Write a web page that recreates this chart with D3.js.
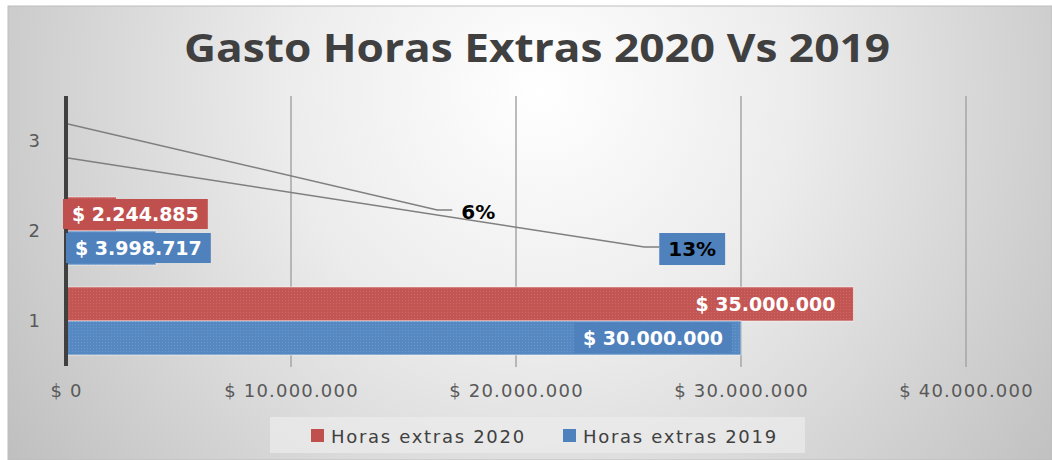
<!DOCTYPE html>
<html>
<head>
<meta charset="utf-8">
<script src="https://cdn.jsdelivr.net/npm/d3@7"></script>
<style>
  body { margin: 0; background: #ffffff; }
</style>
</head>
<body>
<svg id="drawing_region"></svg>
<script>
// data
const categories = ["1", "2", "3"];
const seriesNames = ["Horas extras 2020", "Horas extras 2019"];
const values2020 = [35000000, 2244885, 0.06];
const values2019 = [30000000, 3998717, 0.13];
const xTicks = [0, 10000000, 20000000, 30000000, 40000000];

const colors = { "Horas extras 2020": "#c0504d", "Horas extras 2019": "#4f81bd" };

const locale = d3.formatLocale({ decimal: ",", thousands: ".", grouping: [3], currency: ["$ ", ""] });
const money = locale.format("$,.0f");
const pct = d3.format(".0%");
const fmt = d => d < 1 ? pct(d) : money(d);

const width = 1052, height = 460;
const margin = { top: 96, right: 86, bottom: 94, left: 66 };

const svg = d3.select("#drawing_region")
    .attr("width", width)
    .attr("height", height);

// background
const defs = svg.append("defs");
const grad = defs.append("radialGradient")
    .attr("id", "bg")
    .attr("gradientUnits", "userSpaceOnUse")
    .attr("cx", 540).attr("cy", 90).attr("r", 640);
grad.append("stop").attr("offset", 0).attr("stop-color", "#ffffff");
grad.append("stop").attr("offset", 0.4).attr("stop-color", "#ececec");
grad.append("stop").attr("offset", 1).attr("stop-color", "#c0c0c0");

const pat = defs.append("pattern")
    .attr("id", "dots")
    .attr("width", 3).attr("height", 3)
    .attr("patternUnits", "userSpaceOnUse");
pat.append("rect").attr("width", 1).attr("height", 1).attr("fill", "rgba(255,255,255,0.12)");

svg.append("rect")
    .attr("x", 8).attr("y", 6)
    .attr("width", width - 8).attr("height", height - 6)
    .attr("fill", "url(#bg)")
    .attr("stroke", "#bdbdbd");

svg.append("text")
    .attr("x", 537).attr("y", 62)
    .attr("text-anchor", "middle")
    .attr("font-family", "'Open Sans', sans-serif")
    .attr("font-weight", 700)
    .attr("font-size", "40px")
    .attr("textLength", 706)
    .attr("lengthAdjust", "spacingAndGlyphs")
    .attr("fill", "#404040")
    .text("Gasto Horas Extras 2020 Vs 2019");

const x = d3.scaleLinear()
    .domain([0, 40000000])
    .range([margin.left, width - margin.right]);

const y = d3.scaleBand()
    .domain(categories.slice().reverse())
    .range([margin.top, height - margin.bottom])
    .paddingInner(0.244)
    .paddingOuter(0.122);

const ySub = d3.scaleBand()
    .domain(seriesNames)
    .range([0, y.bandwidth()]);

// gridlines
svg.append("g")
    .selectAll("line")
    .data(xTicks.slice(1))
    .join("line")
    .attr("x1", d => x(d)).attr("x2", d => x(d))
    .attr("y1", margin.top).attr("y2", height - margin.bottom + 1)
    .attr("stroke", "#a6a6a6")
    .attr("stroke-width", 1.5);

// x axis labels
const xaxis = d3.axisBottom(x).tickValues(xTicks).tickFormat(money).tickSize(0).tickPadding(18);
const xg = svg.append("g")
    .attr("transform", `translate(0, ${height - margin.bottom})`)
    .call(xaxis);
xg.select(".domain").remove();
xg.selectAll("text")
    .attr("font-family", "'DejaVu Sans', sans-serif")
    .attr("font-size", "18px")
    .attr("letter-spacing", "1.2px")
    .attr("fill", "#595959");

// y axis labels
const yaxis = d3.axisLeft(y).tickSize(0).tickPadding(26);
const yg = svg.append("g")
    .attr("transform", `translate(${margin.left}, 0)`)
    .call(yaxis);
yg.select(".domain").remove();
yg.selectAll("text")
    .attr("font-family", "'DejaVu Sans', sans-serif")
    .attr("font-size", "18px")
    .attr("fill", "#595959");

// bars
const rows = [];
categories.forEach((c, i) => {
    rows.push({ cat: c, series: seriesNames[0], value: values2020[i] });
    rows.push({ cat: c, series: seriesNames[1], value: values2019[i] });
});

const barFill = { "Horas extras 2020": "#c35553", "Horas extras 2019": "#5689c2" };
const bars = svg.append("g");
bars.selectAll("rect.bar")
    .data(rows)
    .join("rect")
    .attr("class", "bar")
    .attr("x", x(0))
    .attr("y", d => y(d.cat) + ySub(d.series))
    .attr("width", d => x(d.value) - x(0))
    .attr("height", ySub.bandwidth())
    .attr("fill", d => barFill[d.series])
    .attr("stroke", "rgba(255,255,255,0.55)")
    .attr("stroke-width", 1);
bars.selectAll("rect.tex")
    .data(rows)
    .join("rect")
    .attr("class", "tex")
    .attr("x", x(0))
    .attr("y", d => y(d.cat) + ySub(d.series))
    .attr("width", d => x(d.value) - x(0))
    .attr("height", ySub.bandwidth())
    .attr("fill", "url(#dots)");

// value axis line
svg.append("line")
    .attr("x1", x(0)).attr("x2", x(0))
    .attr("y1", margin.top).attr("y2", height - margin.bottom)
    .attr("stroke", "#404040")
    .attr("stroke-width", 4);

// data labels
const labelFont = "'DejaVu Sans', sans-serif";
const barMid = d => y(d.cat) + ySub(d.series) + ySub.bandwidth() / 2;

// callout elbows for the tiny category 3 values (x in data units, dy in px below bar centre)
const callout = {
    "Horas extras 2020": { x: 16500000, dy: 86, box: false },
    "Horas extras 2019": { x: 25700000, dy: 89, box: true }
};

const labels = svg.append("g");
rows.forEach(d => {
    const g = labels.append("g");
    const cy = barMid(d);
    const t = g.append("text")
        .attr("font-family", labelFont)
        .attr("font-weight", 700)
        .attr("font-size", "19px")
        .attr("dominant-baseline", "central")
        .attr("fill", "#ffffff")
        .text(fmt(d.value));

    let boxY = cy - 15, boxH = 30;
    if (d.cat === "1") {
        // inside end
        t.attr("text-anchor", "end")
            .attr("x", x(d.value) - 18)
            .attr("y", cy);
    } else if (d.cat === "2") {
        // inside base
        const off = d.series === seriesNames[0] ? -3 : 0;
        t.attr("x", x(0) + off + 9).attr("y", cy);
    } else {
        const c = callout[d.series];
        const ex = x(c.x), ey = cy + c.dy;
        g.append("polyline")
            .attr("points", `${x(d.value) + 2},${cy} ${ex},${ey} ${ex + 15},${ey}`)
            .attr("fill", "none")
            .attr("stroke", "#7f7f7f")
            .attr("stroke-width", 1.5);
        t.raise()
            .attr("font-size", "20px")
            .attr("fill", "#000000")
            .attr("x", ex + 24)
            .attr("y", ey + 2);
        if (!c.box) return;
        boxY = ey + 2 - 16;
        boxH = 32;
    }
    const bb = t.node().getBBox();
    g.insert("rect", "text")
        .attr("x", bb.x - 9)
        .attr("y", boxY)
        .attr("width", bb.width + 18)
        .attr("height", boxH)
        .attr("fill", d.cat === "1" && d.series === seriesNames[0] ? "none" : colors[d.series]);
});

// legend
const legend = svg.append("g");
legend.append("rect")
    .attr("x", 270).attr("y", 417)
    .attr("width", 535).attr("height", 36)
    .attr("fill", "rgba(235,235,235,0.75)");
const li = legend.selectAll("g")
    .data(seriesNames)
    .join("g")
    .attr("transform", (d, i) => `translate(${311 + i * 252}, 435)`);
li.append("rect")
    .attr("x", 0).attr("y", -6)
    .attr("width", 13).attr("height", 13)
    .attr("fill", d => colors[d]);
li.append("text")
    .attr("x", 20).attr("y", 1)
    .attr("dominant-baseline", "central")
    .attr("font-family", "'DejaVu Sans', sans-serif")
    .attr("font-size", "18px")
    .attr("letter-spacing", "1.7px")
    .attr("fill", "#404040")
    .text(d => d);
</script>
</body>
</html>
